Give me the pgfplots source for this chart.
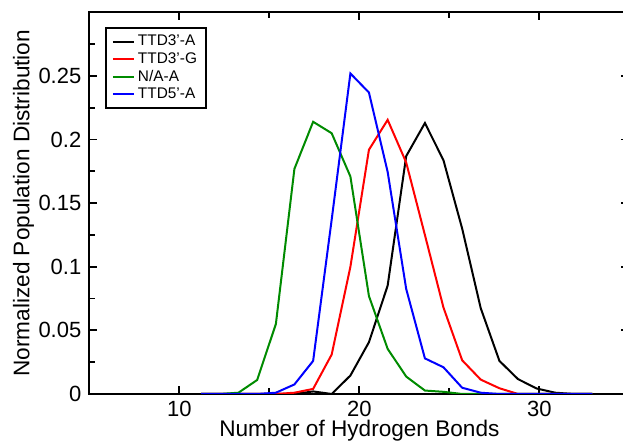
\documentclass[border=0pt]{standalone}
\usepackage{fontspec}
\setmainfont{Liberation Sans}
\usepackage{pgfplots}
\pgfplotsset{compat=1.18}
\usepackage{pgfplotstable}

\definecolor{grgreen}{RGB}{0,139,0}

% x, TTD3'-A, TTD3'-G, N/A-A, TTD5'-A
\pgfplotstableread{
x      ba      rg      ga      bl
11.21  0       0       0       0
12.25  0       0       0       0
13.28  0       0       0.001   0
14.32  0       0       0.011   0
15.36  0       0       0.055   0.001
16.39  0       0.001   0.177   0.0075
17.43  0.002   0.004   0.214   0.026
18.46  0       0.031   0.205   0.137
19.50  0.0145  0.100   0.171   0.252
20.53  0.0407  0.192   0.077   0.237
21.57  0.0852  0.2155  0.0355  0.1746
22.60  0.187   0.182   0.0137  0.0826
23.64  0.213   0.125   0.0027  0.028
24.67  0.1838  0.068   0.0017  0.021
25.71  0.130   0.0265  0       0.0049
26.74  0.0675  0.0113  0       0.001
27.78  0.026   0.0045  0       0
28.81  0.0117  0       0       0
29.85  0.0043  0       0       0
30.88  0.001   0       0       0
31.92  0       0       0       0
32.95  0       0       0       0
}\hbdata

\begin{document}
\begin{tikzpicture}
\begin{axis}[
  name=ax,
  scale only axis,
  width=270pt,
  height=190.8pt,
  xmin=5, xmax=35,
  ymin=0, ymax=0.3,
  xtick={10,20,30},
  minor xtick={15,25},
  ytick={0,0.05,0.1,0.15,0.2,0.25},
  minor ytick={0.025,0.075,0.125,0.175,0.225,0.275},
  yticklabels={0,0.05,0.1,0.15,0.2,0.25},
  tick align=inside,
  major tick length=4pt,
  minor tick length=3pt,
  every tick/.style={black, line width=0.9pt},
  axis line style={line width=1.1pt},
  ticklabel style={font=\fontsize{11}{13}\selectfont},
  /pgf/number format/assume math mode=true,
  yticklabel style={xshift=-0.5pt},
  xlabel={Number of Hydrogen Bonds},
  ylabel={Normalized Population Distribution},
  label style={font=\fontsize{11.3}{13}\selectfont},
  xlabel style={at={(axis description cs:0.5,0)}, anchor=base, yshift=-21.5pt},
  ylabel style={at={(axis description cs:-0.122,0.5)}, anchor=center},
  legend style={
    at={(axis description cs:0.029,0.961)},
    anchor=north west,
    draw=black, line width=0.9pt,
    font=\fontsize{7.7}{8}\selectfont,
    inner xsep=3pt, inner ysep=2pt,
    row sep=-1.2pt,
    nodes={inner sep=1.5pt},
  },
  legend cell align=left,
  legend image code/.code={\draw[#1, line width=1pt] (0pt,0pt) -- (10.5pt,0pt);},
  every axis plot/.append style={line width=1pt},
]
\addplot[black] table[x=x, y=ba] {\hbdata};
\addplot[red] table[x=x, y=rg] {\hbdata};
\addplot[grgreen] table[x=x, y=ga] {\hbdata};
\addplot[blue] table[x=x, y=bl] {\hbdata};
\legend{TTD3'-A, TTD3'-G, N/A-A, TTD5'-A}
\end{axis}
\pgfresetboundingbox
\path[use as bounding box] ([xshift=-44.7pt, yshift=-23.3pt]ax.south west) rectangle ([xshift=266.8pt, yshift=6.2pt]ax.north west);
\end{tikzpicture}
\end{document}
